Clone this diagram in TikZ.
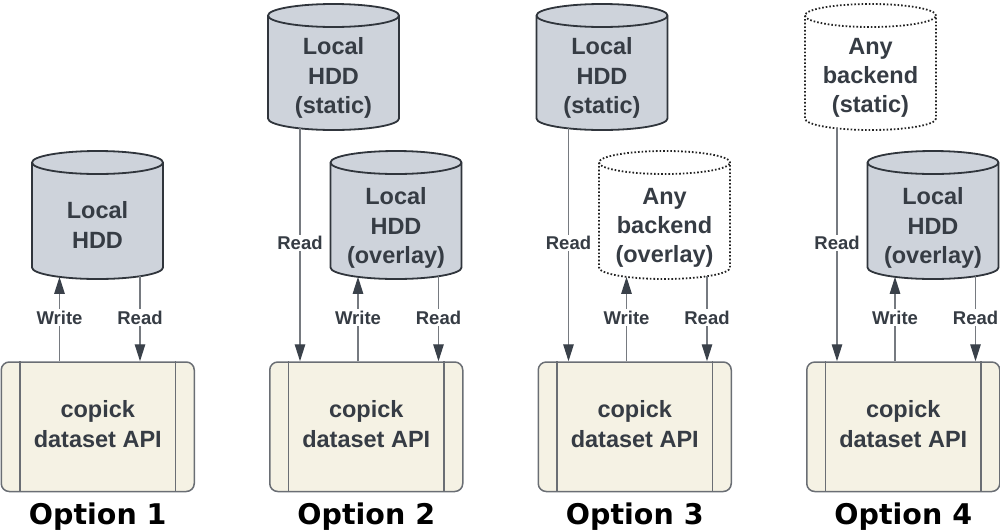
\documentclass[tikz,border=0pt]{standalone}
\usepackage{fontspec}
\setmainfont{Liberation Sans}
\newfontfamily\optfont{DejaVu Sans}
\usetikzlibrary{arrows.meta}
\definecolor{cylF}{RGB}{206,211,219}
\definecolor{cylD}{RGB}{48,53,60}
\definecolor{txtC}{RGB}{54,60,68}
\definecolor{boxF}{RGB}{245,242,228}
\definecolor{boxD}{RGB}{106,110,116}
\definecolor{lineC}{RGB}{118,122,128}
\definecolor{headC}{RGB}{58,65,74}
\definecolor{dotC}{RGB}{35,35,35}
\newcommand\mycyl[4]{% #1 style, #2 cx, #3 top, #4 bottom
  \path[#1] (#2-65.5,#3+11.5) -- (#2-65.5,#4-11.5)
     arc[start angle=180,end angle=360,x radius=65.5pt,y radius=11.5pt]
     -- (#2+65.5,#3+11.5)
     arc[start angle=0,end angle=180,x radius=65.5pt,y radius=11.5pt] -- cycle;
  \path[#1,fill=none] (#2-65.5,#3+11.5)
     arc[start angle=180,end angle=360,x radius=65.5pt,y radius=11.5pt];
}
\tikzset{
  solidcyl/.style={fill=cylF,draw=cylD,line width=1.8pt},
  dotcyl/.style={fill=white,draw=dotC,line width=1.8pt,dash pattern=on 1.6pt off 2pt},
  cyltext/.style={inner sep=0pt,align=center,text=txtC,
     font=\fontsize{23.5}{29.3}\selectfont\bfseries},
  apibox/.style={draw=boxD,fill=boxF,line width=1.5pt,rounded corners=8pt,
     minimum width=193pt,minimum height=129.5pt,inner sep=0pt},
  boxline/.style={draw=boxD,line width=1.5pt},
  apitext/.style={inner sep=0pt,align=center,text=txtC,
     font=\fontsize{23.5}{29.3}\selectfont\bfseries},
  conn/.style={draw=lineC,line width=1.2pt,
     -{Triangle[width=10.5pt,length=17pt,color=headC]}},
  lbl/.style={fill=white,inner sep=1.5pt,text=txtC,
     font=\fontsize{18.5}{22}\selectfont\bfseries},
  optlbl/.style={inner sep=0pt,text=black,
     font=\fontsize{28.5}{34}\selectfont\optfont\bfseries}
}
\begin{document}
\begin{tikzpicture}[x=1pt,y=-1pt]
\useasboundingbox (0,0) rectangle (1000,531);

% ---------------- Option 1
\mycyl{solidcyl}{97.5}{151}{279}
\node[cyltext] (c1) at (97.5,225) {Local\\HDD};
\node[apibox] (api1) at (97.75,426.75) {};
\draw[boxline] ([xshift=19.5pt]api1.north west) -- ([xshift=19.5pt]api1.south west);
\draw[boxline] ([xshift=-19.5pt]api1.north east) -- ([xshift=-19.5pt]api1.south east);
\node[apitext] (t1) at (97.75,424) {copick\\dataset API};
\coordinate (w1) at (59.5,276.9);
\coordinate (r1) at (140,276.3);
\draw[conn] (api1.north -| w1) -- (w1);
\draw[conn] (r1) -- (api1.north -| r1);
\node[lbl] (lw1) at (59.5,317.5) {Write};
\node[lbl] (lr1) at (140,317.5) {Read};
\node[optlbl] (o1) at (97.75,517) {Option 1};

% ---------------- Option 2
\mycyl{solidcyl}{333.5}{4}{130}
\node[cyltext] (s2) at (333.5,78) {Local\\HDD\\(static)};
\mycyl{solidcyl}{396}{151}{279}
\node[cyltext] (v2) at (396,228) {Local\\HDD\\(overlay)};
\node[apibox] (api2) at (366.25,426.75) {};
\draw[boxline] ([xshift=19.5pt]api2.north west) -- ([xshift=19.5pt]api2.south west);
\draw[boxline] ([xshift=-19.5pt]api2.north east) -- ([xshift=-19.5pt]api2.south east);
\node[apitext] (t2) at (366.25,424) {copick\\dataset API};
\coordinate (sr2) at (300,128.4);
\coordinate (w2) at (358,276.9);
\coordinate (r2) at (438.5,276.2);
\draw[conn] (sr2) -- (api2.north -| sr2);
\draw[conn] (api2.north -| w2) -- (w2);
\draw[conn] (r2) -- (api2.north -| r2);
\node[lbl] (ls2) at (300,243) {Read};
\node[lbl] (lw2) at (358,317.5) {Write};
\node[lbl] (lr2) at (438.5,317.5) {Read};
\node[optlbl] (o2) at (366.25,517) {Option 2};

% ---------------- Option 3
\mycyl{solidcyl}{602}{4}{130}
\node[cyltext] (s3) at (602,78) {Local\\HDD\\(static)};
\mycyl{dotcyl}{664.5}{151}{279}
\node[cyltext] (v3) at (664.5,228) {Any\\backend\\(overlay)};
\node[apibox] (api3) at (634.75,426.75) {};
\draw[boxline] ([xshift=19.5pt]api3.north west) -- ([xshift=19.5pt]api3.south west);
\draw[boxline] ([xshift=-19.5pt]api3.north east) -- ([xshift=-19.5pt]api3.south east);
\node[apitext] (t3) at (634.75,424) {copick\\dataset API};
\coordinate (sr3) at (568.5,128.4);
\coordinate (w3) at (626.5,276.9);
\coordinate (r3) at (707,276.2);
\draw[conn] (sr3) -- (api3.north -| sr3);
\draw[conn] (api3.north -| w3) -- (w3);
\draw[conn] (r3) -- (api3.north -| r3);
\node[lbl] (ls3) at (568.5,243) {Read};
\node[lbl] (lw3) at (626.5,317.5) {Write};
\node[lbl] (lr3) at (707,317.5) {Read};
\node[optlbl] (o3) at (634.75,517) {Option 3};

% ---------------- Option 4
\mycyl{dotcyl}{870.5}{4}{130}
\node[cyltext] (s4) at (870.5,78) {Any\\backend\\(static)};
\mycyl{solidcyl}{933}{151}{279}
\node[cyltext] (v4) at (933,228) {Local\\HDD\\(overlay)};
\node[apibox] (api4) at (903.25,426.75) {};
\draw[boxline] ([xshift=19.5pt]api4.north west) -- ([xshift=19.5pt]api4.south west);
\draw[boxline] ([xshift=-19.5pt]api4.north east) -- ([xshift=-19.5pt]api4.south east);
\node[apitext] (t4) at (903.25,424) {copick\\dataset API};
\coordinate (sr4) at (837,128.4);
\coordinate (w4) at (895,276.9);
\coordinate (r4) at (975.5,276.2);
\draw[conn] (sr4) -- (api4.north -| sr4);
\draw[conn] (api4.north -| w4) -- (w4);
\draw[conn] (r4) -- (api4.north -| r4);
\node[lbl] (ls4) at (837,243) {Read};
\node[lbl] (lw4) at (895,317.5) {Write};
\node[lbl] (lr4) at (975.5,317.5) {Read};
\node[optlbl] (o4) at (903.25,517) {Option 4};
\end{tikzpicture}
\end{document}
